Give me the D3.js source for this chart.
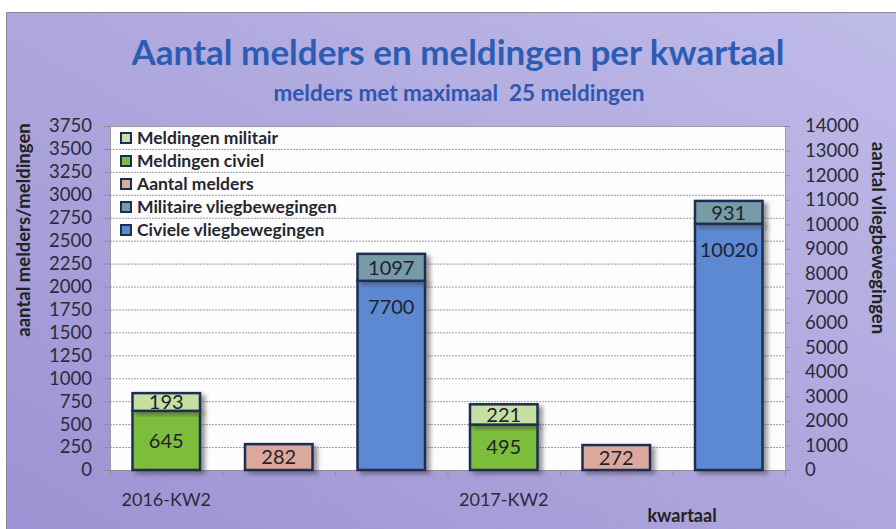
<!DOCTYPE html>
<html>
<head>
<meta charset="utf-8">
<script src="https://cdn.jsdelivr.net/npm/d3@7"></script>
<style>
  body { margin: 0; background: #fff; }
  svg { display: block; font-family: Lato, "Open Sans", sans-serif; }
</style>
</head>
<body>
<div id="chart"></div>
<script>
// Values
const quarters = ["2016-KW2", "2017-KW2"];
const meldingenCiviel = [645, 495];
const meldingenMilitair = [193, 221];
const aantalMelders = [282, 272];
const civieleVlieg = [7700, 10020];
const militaireVlieg = [1097, 931];

const leftTicks = d3.range(0, 3751, 250);
const rightTicks = d3.range(0, 14001, 1000);

const legendItems = [
    { name: "Meldingen militair", color: "#c6e0a2" },
    { name: "Meldingen civiel", color: "#7bbd3a" },
    { name: "Aantal melders", color: "#dca89b" },
    { name: "Militaire vliegbewegingen", color: "#779ca6" },
    { name: "Civiele vliegbewegingen", color: "#5d88d2" }
];
const color = Object.fromEntries(legendItems.map(d => [d.name, d.color]));

const W = 896, H = 529;
const plot = { left: 110, right: 785, top: 126, bottom: 470 };

// Three slots per quarter: meldingen, melders, vliegbewegingen
const slots = quarters.flatMap(q => [q + "|meldingen", q + "|melders", q + "|vlieg"]);

const x = d3.scaleBand()
    .domain(slots)
    .range([plot.left, plot.right])
    .paddingInner(0.4)
    .paddingOuter(0.2);

const yLeft = d3.scaleLinear().domain([0, 3750]).range([plot.bottom, plot.top]);
const yRight = d3.scaleLinear().domain([0, 14000]).range([plot.bottom, plot.top]);

const svg = d3.select("#chart")
    .append("svg")
    .attr("width", W)
    .attr("height", H);

const defs = svg.append("defs");

const bg = defs.append("linearGradient")
    .attr("id", "bg")
    .attr("x1", "1").attr("y1", "0")
    .attr("x2", "0").attr("y2", "1");
bg.append("stop").attr("offset", "0%").attr("stop-color", "#bfbbe8");
bg.append("stop").attr("offset", "100%").attr("stop-color", "#9d92d3");

defs.append("filter")
    .attr("id", "shadow")
    .attr("x", "-20%").attr("y", "-20%")
    .attr("width", "150%").attr("height", "150%")
    .append("feDropShadow")
    .attr("dx", 4).attr("dy", 3)
    .attr("stdDeviation", 2)
    .attr("flood-color", "#444")
    .attr("flood-opacity", 0.55);

// Chart background with frame
svg.append("rect")
    .attr("x", 6).attr("y", 12)
    .attr("width", W - 6).attr("height", H - 12)
    .attr("fill", "url(#bg)");
svg.append("path")
    .attr("d", `M6.5,${H}V12.5H${W}`)
    .attr("fill", "none")
    .attr("stroke", "#8a8a96")
    .attr("stroke-width", 1);

// Titles
svg.append("text")
    .attr("x", 458).attr("y", 65)
    .attr("text-anchor", "middle")
    .attr("fill", "#2c5db5")
    .style("font-size", "35px")
    .style("font-weight", "700")
    .text("Aantal melders en meldingen per kwartaal");

svg.append("text")
    .attr("x", 459).attr("y", 101)
    .attr("text-anchor", "middle")
    .attr("fill", "#2f56b0")
    .style("font-size", "22.5px")
    .style("font-weight", "700")
    .style("white-space", "pre")
    .text("melders met maximaal  25 meldingen");

// Plot area
svg.append("rect")
    .attr("x", plot.left).attr("y", plot.top)
    .attr("width", plot.right - plot.left)
    .attr("height", plot.bottom - plot.top)
    .attr("fill", "#fdfdfd");

svg.append("g")
    .selectAll("line")
    .data(leftTicks.slice(1))
    .join("line")
    .attr("x1", plot.left).attr("x2", plot.right)
    .attr("y1", d => yLeft(d) + 0.5).attr("y2", d => yLeft(d) + 0.5)
    .attr("stroke", "#9a9aa2")
    .attr("stroke-dasharray", "2,1");

svg.append("rect")
    .attr("x", plot.left + 0.5).attr("y", plot.top + 0.5)
    .attr("width", plot.right - plot.left)
    .attr("height", plot.bottom - plot.top)
    .attr("fill", "none")
    .attr("stroke", "#9a9aa2");

// Axes
const tickStyle = g => {
    g.select(".domain").remove();
    g.selectAll(".tick line").attr("stroke", "#8f8f98");
    g.selectAll(".tick text")
        .attr("fill", "#2b2b38")
        .style("font-size", "18.5px")
        .style("font-family", "Lato, sans-serif");
};

svg.append("g")
    .attr("transform", `translate(${plot.left},0)`)
    .call(d3.axisLeft(yLeft).tickValues(leftTicks).tickFormat(d3.format("d")).tickSize(7).tickPadding(11))
    .call(tickStyle);

svg.append("g")
    .attr("transform", `translate(${plot.right},0)`)
    .call(d3.axisRight(yRight).tickValues(rightTicks).tickFormat(d3.format("d")).tickSize(5).tickPadding(15))
    .call(tickStyle);

// x axis: ticks between slots, labels under first slot of each quarter
const edges = d3.range(slots.length + 1).map(i => plot.left + i * x.step());
const xAxis = svg.append("g");
xAxis.append("line")
    .attr("x1", plot.left).attr("x2", plot.right)
    .attr("y1", plot.bottom + 0.5).attr("y2", plot.bottom + 0.5)
    .attr("stroke", "#8f8f98");
xAxis.selectAll(".xt")
    .data(edges)
    .join("line")
    .attr("class", "xt")
    .attr("x1", d => d + 0.5).attr("x2", d => d + 0.5)
    .attr("y1", plot.bottom).attr("y2", plot.bottom + 6)
    .attr("stroke", "#8f8f98");
xAxis.selectAll(".xl")
    .data(quarters)
    .join("text")
    .attr("class", "xl")
    .attr("x", q => x(q + "|meldingen") + x.bandwidth() / 2)
    .attr("y", 506)
    .attr("text-anchor", "middle")
    .attr("fill", "#2b2b38")
    .style("font-size", "18px")
    .text(q => q);

svg.append("text")
    .attr("x", 682).attr("y", 522)
    .attr("text-anchor", "middle")
    .attr("fill", "#222")
    .style("font-size", "18px")
    .style("font-weight", "700")
    .text("kwartaal");

svg.append("text")
    .attr("transform", "translate(30,230) rotate(-90)")
    .attr("text-anchor", "middle")
    .attr("fill", "#222")
    .style("font-size", "18.5px")
    .style("font-weight", "700")
    .text("aantal melders/meldingen");

svg.append("text")
    .attr("transform", "translate(872,238) rotate(90)")
    .attr("text-anchor", "middle")
    .attr("fill", "#222")
    .style("font-size", "18.5px")
    .style("font-weight", "700")
    .text("aantal vliegbewegingen");

// Bar segments built from the arrays
const segments = [];
quarters.forEach((q, i) => {
    segments.push({ slot: q + "|meldingen", y: yLeft, y0: 0, y1: meldingenCiviel[i], name: "Meldingen civiel", value: meldingenCiviel[i], pos: "mid" });
    segments.push({ slot: q + "|meldingen", y: yLeft, y0: meldingenCiviel[i], y1: meldingenCiviel[i] + meldingenMilitair[i], name: "Meldingen militair", value: meldingenMilitair[i], pos: "mid" });
    segments.push({ slot: q + "|melders", y: yLeft, y0: 0, y1: aantalMelders[i], name: "Aantal melders", value: aantalMelders[i], pos: "mid" });
    segments.push({ slot: q + "|vlieg", y: yRight, y0: 0, y1: civieleVlieg[i], name: "Civiele vliegbewegingen", value: civieleVlieg[i], pos: "top" });
    segments.push({ slot: q + "|vlieg", y: yRight, y0: civieleVlieg[i], y1: civieleVlieg[i] + militaireVlieg[i], name: "Militaire vliegbewegingen", value: militaireVlieg[i], pos: "mid" });
});

svg.append("g")
    .selectAll("rect")
    .data(segments)
    .join("rect")
    .attr("x", d => x(d.slot))
    .attr("y", d => d.y(d.y1))
    .attr("width", x.bandwidth())
    .attr("height", d => d.y(d.y0) - d.y(d.y1))
    .attr("fill", d => color[d.name])
    .attr("stroke", "#1c2f52")
    .attr("stroke-width", 2.5)
    .attr("filter", "url(#shadow)");

svg.append("g")
    .selectAll("text")
    .data(segments)
    .join("text")
    .attr("x", d => x(d.slot) + x.bandwidth() / 2)
    .attr("y", d => d.pos === "top" ? d.y(d.y1) + 26 : (d.y(d.y0) + d.y(d.y1)) / 2)
    .attr("dy", "0.36em")
    .attr("text-anchor", "middle")
    .attr("fill", "#1e2230")
    .style("font-size", "20px")
    .text(d => d.value);

// Legend
const legend = svg.append("g")
    .selectAll("g")
    .data(legendItems)
    .join("g")
    .attr("transform", (d, i) => `translate(121,${138 + i * 23})`);

legend.append("rect")
    .attr("x", 0).attr("y", -5)
    .attr("width", 10).attr("height", 10)
    .attr("fill", d => d.color)
    .attr("stroke", "#1c2f52")
    .attr("stroke-width", 2);

legend.append("text")
    .attr("x", 16)
    .attr("dy", "0.35em")
    .attr("fill", "#262630")
    .style("font-size", "17.5px")
    .style("font-weight", "700")
    .text(d => d.name);
</script>
</body>
</html>
